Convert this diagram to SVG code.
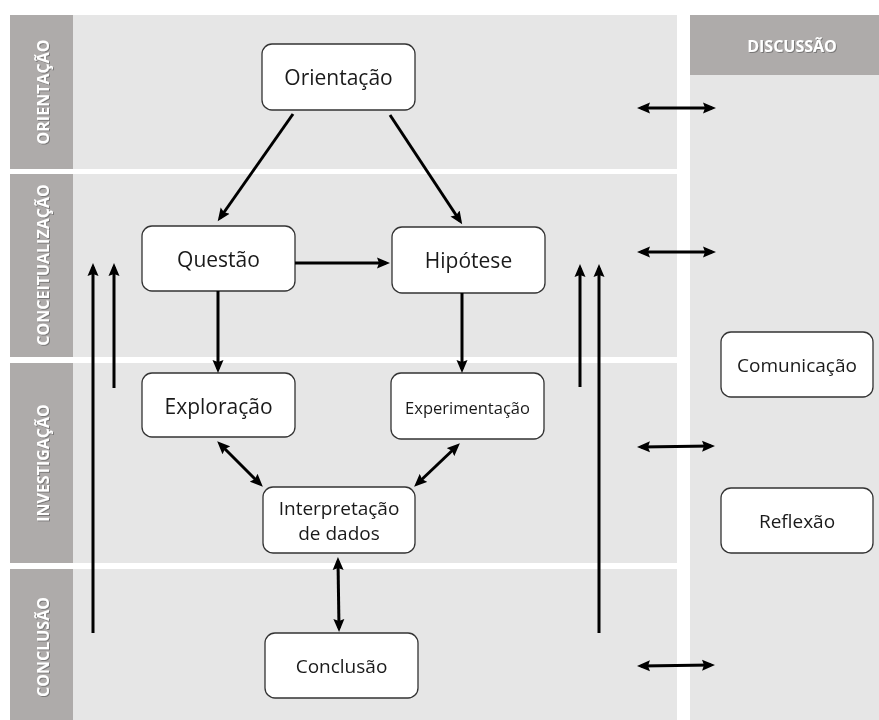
<svg xmlns="http://www.w3.org/2000/svg" width="879" height="720" viewBox="0 0 879 720">
<style>
.band{fill:#e6e6e6}
.lab{fill:#aeabaa}
.lt{font-family:"Open Sans","Liberation Sans",sans-serif;font-weight:bold;font-size:16px;fill:#ffffff;text-anchor:middle;dominant-baseline:central}
.box{fill:#ffffff;stroke:#333333;stroke-width:1.3}
.bt{font-family:"Open Sans","Liberation Sans",sans-serif;fill:#1a1a1a;text-anchor:middle;dominant-baseline:central}
.ar{stroke:#000;stroke-width:3;fill:none;marker-end:url(#ah)}
.dar{stroke:#000;stroke-width:3;fill:none;marker-end:url(#ah);marker-start:url(#ah)}
</style>
<defs>
<marker id="ah" markerUnits="userSpaceOnUse" markerWidth="14" markerHeight="12" viewBox="0 0 14 12" refX="9" refY="6" orient="auto-start-reverse">
<path d="M0,0.5 L13,6 L0,11.5 L2,6 z" fill="#000"/>
</marker>
<filter id="sh" x="-10%" y="-10%" width="120%" height="120%">
<feDropShadow dx="1" dy="1" stdDeviation="0.6" flood-color="#555" flood-opacity="0.6"/>
</filter>
</defs>
<rect width="879" height="720" fill="#ffffff"/>
<g id="bands">
<rect class="band" x="10" y="15" width="667" height="154"/>
<rect class="band" x="10" y="174" width="667" height="183"/>
<rect class="band" x="10" y="363" width="667" height="200"/>
<rect class="band" x="10" y="569" width="667" height="151"/>
<rect class="lab" x="10" y="15" width="63" height="154"/>
<rect class="lab" x="10" y="174" width="63" height="183"/>
<rect class="lab" x="10" y="363" width="63" height="200"/>
<rect class="lab" x="10" y="569" width="63" height="151"/>
<rect class="band" x="690" y="15" width="189" height="705"/>
<rect class="lab" x="690" y="15" width="189" height="60"/>
</g>
<g id="labels" filter="url(#sh)">
<text class="lt" transform="translate(43,92) rotate(-90)">ORIENTAÇÃO</text>
<text class="lt" transform="translate(43,265) rotate(-90)">CONCEITUALIZAÇÃO</text>
<text class="lt" transform="translate(43,463) rotate(-90)">INVESTIGAÇÃO</text>
<text class="lt" transform="translate(43,647) rotate(-90)">CONCLUSÃO</text>
<text class="lt" x="792" y="46">DISCUSSÃO</text>
</g>
<g id="n-orientacao"><rect class="box" x="262" y="44" width="153" height="66" rx="10"/><text class="bt" x="338.5" y="77" font-size="21">Orientação</text></g>
<g id="n-questao"><rect class="box" x="142" y="226" width="153" height="65" rx="10"/><text class="bt" x="218.5" y="259" font-size="21">Questão</text></g>
<g id="n-hipotese"><rect class="box" x="392" y="227" width="153" height="66" rx="10"/><text class="bt" x="468.5" y="260" font-size="21">Hipótese</text></g>
<g id="n-exploracao"><rect class="box" x="142" y="373" width="153" height="64" rx="10"/><text class="bt" x="218.5" y="406" font-size="21">Exploração</text></g>
<g id="n-experimentacao"><rect class="box" x="391" y="373" width="153" height="66" rx="10"/><text class="bt" x="467.5" y="407" font-size="16.5">Experimentação</text></g>
<g id="n-interpretacao"><rect class="box" x="263" y="487" width="152" height="66" rx="10"/><text class="bt" x="339" y="508" font-size="19">Interpretação</text><text class="bt" x="339" y="533" font-size="19">de dados</text></g>
<g id="n-conclusao"><rect class="box" x="265" y="633" width="153" height="65" rx="10"/><text class="bt" x="341.5" y="666" font-size="19">Conclusão</text></g>
<g id="n-comunicacao"><rect class="box" x="721" y="332" width="152" height="65" rx="10"/><text class="bt" x="797" y="365" font-size="19">Comunicação</text></g>
<g id="n-reflexao"><rect class="box" x="721" y="488" width="152" height="65" rx="10"/><text class="bt" x="797" y="521" font-size="19">Reflexão</text></g>
<g id="connectors">
<line class="ar" x1="293" y1="114" x2="220" y2="218"/>
<line class="ar" x1="390" y1="115" x2="460" y2="221"/>
<line class="ar" x1="295" y1="263" x2="386" y2="263"/>
<line class="ar" x1="218" y1="291" x2="218" y2="369"/>
<line class="ar" x1="462" y1="293" x2="462" y2="369"/>
<line class="dar" x1="220" y1="444" x2="260" y2="484"/>
<line class="dar" x1="457" y1="446" x2="417" y2="484"/>
<line class="dar" x1="338" y1="561" x2="339" y2="628"/>
<line class="ar" x1="93" y1="633" x2="93" y2="267"/>
<line class="ar" x1="114" y1="388" x2="114" y2="267"/>
<line class="ar" x1="580" y1="387" x2="580" y2="268"/>
<line class="ar" x1="599" y1="633" x2="599" y2="268"/>
<line class="dar" x1="641" y1="108" x2="712" y2="108"/>
<line class="dar" x1="641" y1="252" x2="712" y2="252"/>
<line class="dar" x1="641" y1="447" x2="711" y2="446"/>
<line class="dar" x1="641" y1="666" x2="711" y2="665"/>
</g>
</svg>
